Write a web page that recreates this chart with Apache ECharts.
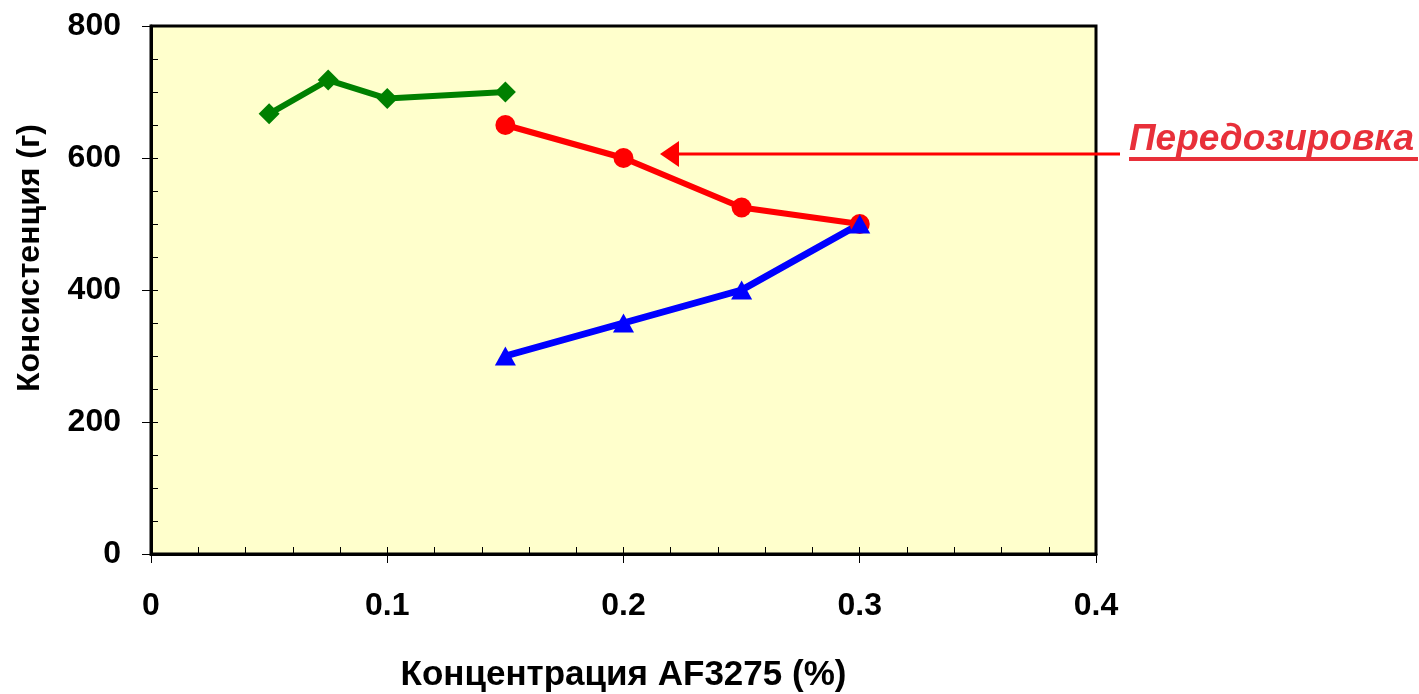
<!DOCTYPE html>
<html>
<head>
<meta charset="utf-8">
<script src="https://cdn.jsdelivr.net/npm/echarts@6/dist/echarts.min.js"></script>
<style>
  html, body { margin: 0; padding: 0; background: #ffffff; }
  #chart { width: 1419px; height: 694px; }
</style>
</head>
<body>
<div id="chart"></div>
<script>
// Concentration of AF3275 (%) and measured consistency (g)
const normalX = [0.05, 0.075, 0.1, 0.15];
const normalY = [667, 718, 690, 700];
const overdoseX = [0.15, 0.2, 0.25, 0.3];
const overdoseY = [650, 600, 525, 500];
const underX = [0.15, 0.2, 0.25, 0.3];
const underY = [300, 350, 400, 500];
const xTicks = [0, 0.1, 0.2, 0.3, 0.4];
const yTicks = [0, 200, 400, 600, 800];

const xAxisTitle = 'Концентрация AF3275 (%)';
const yAxisTitle = 'Консистенция (г)';
const noteText = 'Передозировка';

const FONT = '"Liberation Sans", Arial, sans-serif';

function pairs(xs, ys) { return xs.map((x, i) => [x, ys[i]]); }

const chart = echarts.init(document.getElementById('chart'), null, { renderer: 'canvas' });

const GRID = { left: 151, top: 26, right: 323, bottom: 140 };
const plotCenterX = GRID.left + (1419 - GRID.left - GRID.right) / 2;

const option = {
  animation: false,
  backgroundColor: '#ffffff',
  grid: {
    left: GRID.left, top: GRID.top, right: GRID.right, bottom: GRID.bottom,
    show: true, backgroundColor: '#ffffcc', borderColor: '#000000', borderWidth: 3,
    containLabel: false
  },
  xAxis: [
    {
      type: 'value', min: xTicks[0], max: xTicks[xTicks.length - 1], interval: 0.1,
      position: 'bottom',
      axisLine: { show: true, onZero: false, lineStyle: { color: '#000', width: 3 } },
      axisTick: { show: true, inside: false, length: 9, lineStyle: { color: '#000', width: 1 } },
      axisLabel: {
        show: true, margin: 36, color: '#000', fontSize: 32, fontWeight: 'bold', fontFamily: FONT,
        formatter: v => String(+v.toFixed(2))
      },
      splitLine: { show: false }
    },
    {
      // inner tick marks every 0.02
      type: 'value', min: 0, max: 0.4, interval: 0.02, position: 'bottom',
      axisLine: { show: false, onZero: false },
      axisTick: { show: true, inside: true, length: 7, lineStyle: { color: '#000', width: 1 } },
      axisLabel: { show: false },
      splitLine: { show: false }
    }
  ],
  yAxis: [
    {
      type: 'value', min: yTicks[0], max: yTicks[yTicks.length - 1], interval: 200,
      position: 'left',
      axisLine: { show: true, onZero: false, lineStyle: { color: '#000', width: 3 } },
      axisTick: { show: true, inside: false, length: 9, lineStyle: { color: '#000', width: 1 } },
      axisLabel: { show: true, margin: 30, color: '#000', fontSize: 32, fontWeight: 'bold', fontFamily: FONT },
      splitLine: { show: false }
    },
    {
      // inner tick marks every 50
      type: 'value', min: 0, max: 800, interval: 50, position: 'left',
      axisLine: { show: false, onZero: false },
      axisTick: { show: true, inside: true, length: 7, lineStyle: { color: '#000', width: 1 } },
      axisLabel: { show: false },
      splitLine: { show: false }
    }
  ],
  series: [
    {
      type: 'line', data: pairs(normalX, normalY),
      xAxisIndex: 0, yAxisIndex: 0,
      symbol: 'diamond', symbolSize: 21,
      lineStyle: { color: '#008000', width: 6 },
      itemStyle: { color: '#008000' }
    },
    {
      type: 'line', data: pairs(overdoseX, overdoseY),
      xAxisIndex: 0, yAxisIndex: 0,
      symbol: 'circle', symbolSize: 20,
      lineStyle: { color: '#ff0000', width: 6 },
      itemStyle: { color: '#ff0000' }
    },
    {
      type: 'line', data: pairs(underX, underY),
      xAxisIndex: 0, yAxisIndex: 0,
      symbol: 'triangle', symbolSize: [21, 19],
      lineStyle: { color: '#0000ff', width: 7 },
      itemStyle: { color: '#0000ff' }
    }
  ],
  graphic: [
    {
      type: 'text', x: plotCenterX, y: 675,
      style: { text: xAxisTitle, fill: '#000', font: 'bold 35px ' + FONT, align: 'center', verticalAlign: 'middle' }
    },
    {
      type: 'text', x: 30, y: 258, rotation: Math.PI / 2,
      style: { text: yAxisTitle, fill: '#000', font: 'bold 32px ' + FONT, align: 'center', verticalAlign: 'middle' }
    },
    // annotation arrow pointing at the overdose branch
    {
      type: 'line', z: 10,
      shape: { x1: 676, y1: 154, x2: 1120, y2: 154 },
      style: { stroke: '#ff0000', lineWidth: 3 }
    },
    {
      type: 'polygon', z: 10,
      shape: { points: [[660, 154], [679, 141], [679, 167]] },
      style: { fill: '#ff0000' }
    },
    {
      type: 'text', x: 1129, y: 140, z: 10,
      style: { text: noteText, fill: '#e8303a', font: 'italic bold 37px ' + FONT, align: 'left', verticalAlign: 'middle' }
    },
    {
      type: 'rect', z: 10,
      shape: { x: 1129, y: 157, width: 289, height: 4 },
      style: { fill: '#e8303a' }
    }
  ]
};

chart.setOption(option);
</script>
</body>
</html>
